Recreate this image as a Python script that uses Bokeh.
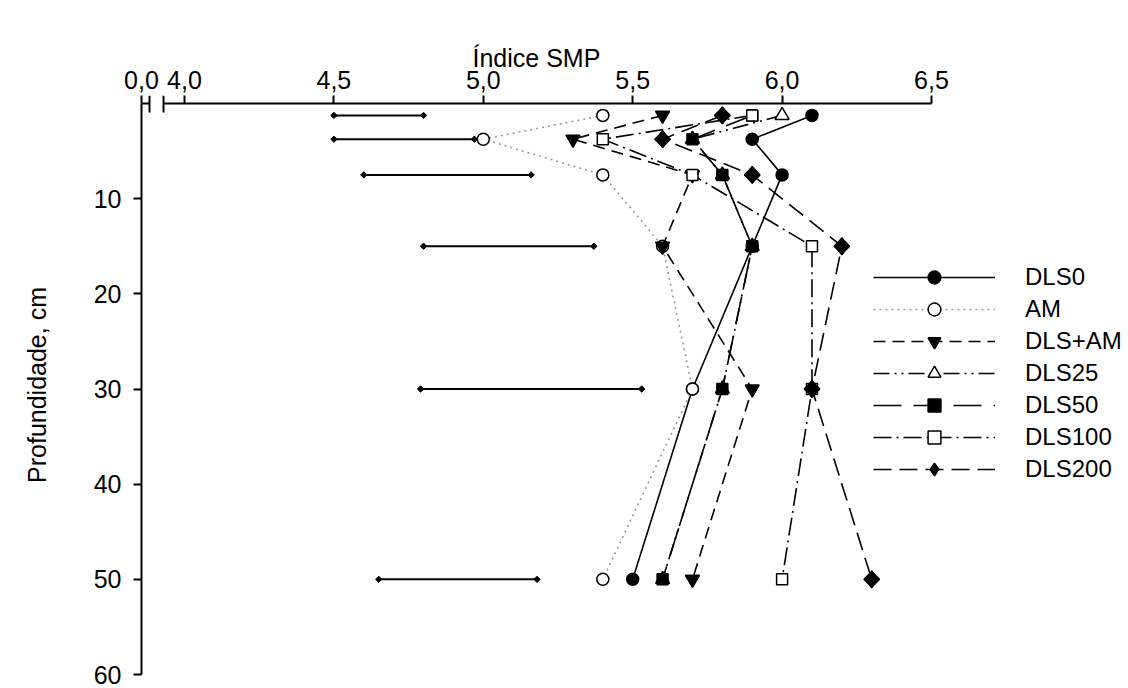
import numpy as np
from bokeh.plotting import figure
from bokeh.models import (Range1d, FixedTicker, CustomJSTickFormatter, Legend,
                          LegendItem, Title)
from bokeh.embed import file_html
from bokeh.resources import INLINE

# ---- data ----
depth = [1.25, 3.75, 7.5, 15, 30, 50]
dls0 = [6.1, 5.9, 6.0, 5.9, 5.7, 5.5]
am = [5.4, 5.0, 5.4, 5.6, 5.7, 5.4]
dls_am = [5.6, 5.3, 5.7, 5.6, 5.9, 5.7]
dls25 = [6.0, 5.7, 5.8, 5.9, 5.8, 5.6]
dls50 = [5.9, 5.7, 5.8, 5.9, 5.8, 5.6]
dls100 = [5.9, 5.4, 5.7, 6.1, 6.1, 6.0]
dls200 = [5.8, 5.6, 5.9, 6.2, 6.1, 6.3]
err_lo = [4.50, 4.50, 4.60, 4.80, 4.79, 4.65]
err_hi = [4.80, 4.97, 5.16, 5.37, 5.53, 5.18]
x_ticks = [4.0, 4.5, 5.0, 5.5, 6.0, 6.5]
y_ticks = [10, 20, 30, 40, 50, 60]
series_names = ["DLS0", "AM", "DLS+AM", "DLS25", "DLS50", "DLS100", "DLS200"]
x_title = "Índice SMP"
y_title = "Profundidade, cm"

# ---- layout ----
W, H = 1126, 688
ML, MR, MT, MB = 141, 2, 95, 14
FW, FH = W - ML - MR, H - MT - MB
TOP_PAD = 8                      # px between frame top and the depth-0 axis line
ky = (FH - TOP_PAD) / 60.0
YTOP = -TOP_PAD / ky
kx = (931 - 184) / 2.5           # px per unit on the x axis
X0 = 4.0 - 43 / kx               # the "0,0" origin (axis break)
XB1 = X0 + 8 / kx
XB2 = X0 + 22 / kx
XMAX = X0 + FW / kx
AXIS_RIGHT_PX = ML + (6.5 - X0) * kx          # right end of the drawn axis
TITLE_W = 128                                  # approx. width of the title text
TITLE_OFFSET = int((AXIS_RIGHT_PX - ML) / 2 - TITLE_W / 2)

FONT = "Liberation Sans"

p = figure(width=W, height=H, output_backend="svg", toolbar_location=None,
           x_range=Range1d(X0, XMAX), y_range=Range1d(60, YTOP),
           x_axis_location="above",
           min_border_left=ML, min_border_right=MR,
           min_border_top=MT, min_border_bottom=MB)
p.outline_line_color = None
p.grid.visible = False
p.background_fill_color = "white"

p.title = Title(text=x_title, align="left", offset=TITLE_OFFSET,
                vertical_align="bottom", standoff=-9, text_font=FONT,
                text_font_size="25px", text_font_style="normal", text_color="black")

xa = p.xaxis[0]
xa.ticker = FixedTicker(ticks=[X0] + x_ticks)
xa.formatter = CustomJSTickFormatter(
    code="return tick < 3.95 ? '0,0' : tick.toFixed(1).replace('.', ',');")
xa.axis_line_color = None
xa.major_tick_in = TOP_PAD
xa.major_tick_out = 0
xa.major_tick_line_width = 2
xa.minor_tick_line_color = None
xa.major_label_standoff = 7
xa.major_label_text_font = FONT
xa.major_label_text_font_size = "25px"
xa.major_label_text_color = "black"

ya = p.yaxis[0]
ya.ticker = FixedTicker(ticks=y_ticks)
ya.bounds = (0, 60)
ya.axis_line_width = 2
ya.major_tick_out = 8
ya.major_tick_in = 0
ya.major_tick_line_width = 2
ya.minor_tick_line_color = None
ya.major_label_standoff = 12
ya.major_label_text_font = FONT
ya.major_label_text_font_size = "25px"
ya.major_label_text_color = "black"
ya.axis_label = y_title
ya.axis_label_text_font = FONT
ya.axis_label_text_font_size = "25px"
ya.axis_label_text_font_style = "normal"
ya.axis_label_text_color = "black"
ya.axis_label_standoff = 40

# broken top axis line and break marks
p.segment(x0=[X0, XB2], y0=[0, 0], x1=[XB1, 6.5], y1=[0, 0],
          line_color="black", line_width=2)
p.segment(x0=[XB1, XB2], y0=[YTOP, YTOP], x1=[XB1, XB2], y1=[9 / ky, 9 / ky],
          line_color="black", line_width=2)

# error bars
p.segment(x0=err_lo, y0=depth, x1=err_hi, y1=depth, line_color="black", line_width=2)
p.scatter(err_lo + err_hi, depth + depth, marker="square", angle=np.pi / 4,
          size=4.5, fill_color="black", line_color="black")

# (values, dash, line colour, marker, size, fill, angle, legend marker)
styles = [
    (dls0, "solid", "black", "circle", 12, "black", 0, None),
    (am, "2 4", "#9a9a9a", "circle", 12, "white", 0, None),
    (dls_am, "12 7", "black", "inverted_triangle", 14, "black", 0, None),
    (dls25, "16 5 2 5 2 5", "black", "triangle", 14, "white", 0, None),
    (dls50, "28 12", "black", "square", 11, "black", 0, None),
    (dls100, "18 5 2 5", "black", "square", 11, "white", 0, None),
    (dls200, "18 8", "black", "square", 11, "black", np.pi / 4, "diamond"),
]

items = []
for name, (vals, dash, lcol, mk, sz, fill, ang, lmk) in zip(series_names, styles):
    lr = p.line(vals, depth, line_color=lcol, line_width=1.6, line_dash=dash)
    rends = [lr]
    if lmk is not None:
        # diamond glyph used for the legend swatch; it sits hidden under the
        # rotated squares drawn just after it
        rends.append(p.scatter(vals, depth, marker=lmk, size=17, fill_color=fill,
                               line_color="black", line_width=1.5))
    sr = p.scatter(vals, depth, marker=mk, size=sz, angle=ang, fill_color=fill,
                   line_color="black", line_width=1.5)
    if lmk is None:
        rends.append(sr)
    items.append(LegendItem(label=name, renderers=rends))

legend = Legend(items=items, location=(873 - ML, 189), glyph_width=122, glyph_height=32,
                label_height=32, spacing=0, padding=0, margin=0, label_standoff=30,
                label_text_font=FONT, label_text_font_size="24px",
                label_text_color="black", border_line_color=None,
                background_fill_alpha=0)
p.add_layout(legend, "center")

open("out.html", "w").write(file_html(p, INLINE))
